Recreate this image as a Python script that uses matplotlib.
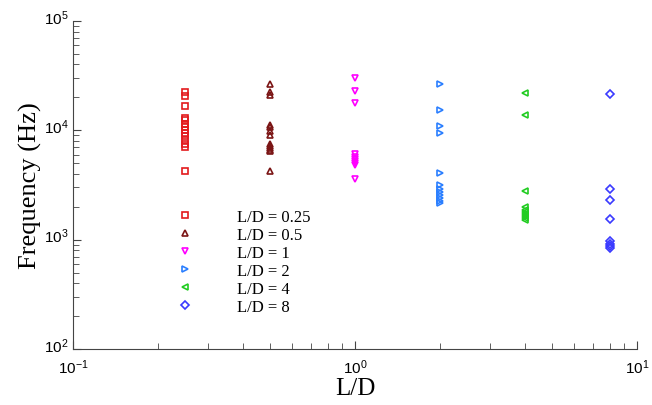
import numpy as np
import matplotlib.pyplot as plt
import matplotlib.transforms as mtransforms

ld = [0.25, 0.5, 1, 2, 4, 8]
labels = ['L/D = 0.25', 'L/D = 0.5', 'L/D = 1', 'L/D = 2', 'L/D = 4', 'L/D = 8']
markers = ['s', '^', 'v', '>', '<', 'D']
colors = ['#e31a1c', '#7b1515', '#ff00ff', '#2b7fff', '#22cc22', '#3a3aff']

f_025 = [22400, 20600, 16700, 13000, 12300, 11500, 10800, 10100, 9500, 8800, 8100, 7500, 7000, 4250]
f_05 = [26500, 22300, 21000, 11200, 10700, 9850, 9050, 7500, 7200, 6890, 6650, 6460, 4250]
f_1 = [30000, 22900, 17800, 6100, 5700, 5450, 5250, 5000, 4820, 3600]
f_2 = [26500, 15400, 10900, 9440, 4100, 3150, 2900, 2750, 2550, 2400, 2250, 2150]
f_4 = [21900, 13700, 2800, 1980, 1880, 1790, 1720, 1650, 1580, 1520]
f_8 = [21500, 2880, 2320, 1540, 980, 920, 870, 830]
freqs = [f_025, f_05, f_1, f_2, f_4, f_8]

fig = plt.figure(figsize=(6.52, 4.06), dpi=100)
ax = fig.add_axes([0.112, 0.138, 0.865, 0.808])

for x, f, m, c, lab in zip(ld, freqs, markers, colors, labels):
    ms = 4 if m == 'D' else 5
    ax.plot([x] * len(f), f, linestyle='none', marker=m, markersize=ms,
            markerfacecolor='none', markeredgecolor=c, markeredgewidth=1.2,
            label=lab)

ax.set_xscale('log')
ax.set_yscale('log')
ax.set_xlim(0.1, 10)
ax.set_ylim(100, 1e5)

ax.spines['top'].set_visible(False)
ax.spines['right'].set_visible(False)
ax.spines['left'].set_color('#444444')
ax.spines['bottom'].set_color('#444444')
ax.tick_params(which='both', direction='in', colors='#444444',
               labelcolor='black', labelsize=11)
ax.tick_params(which='major', length=6)
ax.tick_params(which='minor', length=4)
ax.tick_params(axis='x', pad=6)
for t in ax.get_xticklabels() + ax.get_yticklabels():
    t.set_family('Liberation Sans')
# y tick labels sit a little above their ticks, as in the original
shift = mtransforms.ScaledTranslation(0, 5 / 100, fig.dpi_scale_trans)
for t in ax.get_yticklabels():
    t.set_transform(t.get_transform() + shift)

ax.set_xlabel('L/D', family='Liberation Serif', fontsize=18, labelpad=1)
ax.set_ylabel('Frequency (Hz)', family='Liberation Serif', fontsize=19, labelpad=1)

leg = ax.legend(loc='upper left', bbox_to_anchor=(0.158, 0.472), frameon=False,
                handlelength=1.0, handletextpad=2.6, labelspacing=0.12,
                prop={'family': 'Liberation Serif', 'size': 12})

fig.savefig('out.png', dpi=100)
